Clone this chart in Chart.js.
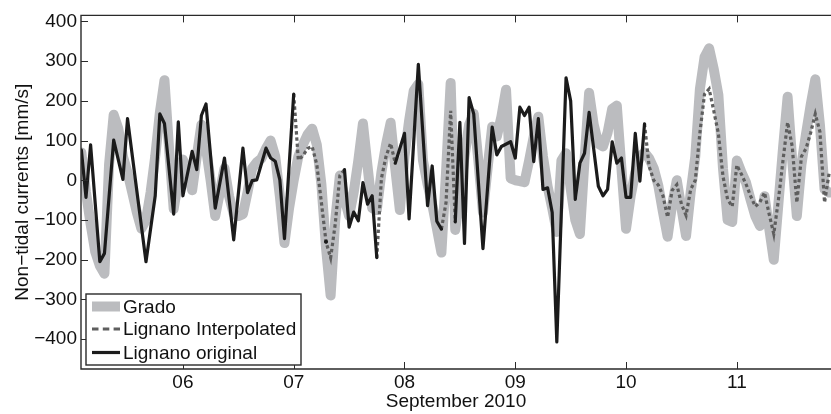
<!DOCTYPE html>
<html>
<head>
<meta charset="utf-8">
<script src="https://cdn.jsdelivr.net/npm/chart.js@4.4.0/dist/chart.umd.min.js"></script>
<style>
html,body{margin:0;padding:0;background:#fff;}
#wrap{width:831px;height:414px;}
</style>
</head>
<body>
<div id="wrap"><canvas id="c" width="831" height="414"></canvas></div>
<script>
// ---- DATA (hours since 5 Sep 2010 00:00) ----
const gradoHours = [2,3,4,5,6,7,8,9,10,11,12,13,14,15,16,17,18,19,20,21,22,23,24,25,26,27,28,29,30,31,32,33,34,35,36,37,38,39,40,41,42,43,44,45,46,47,48,49,50,51,52,53,54,55,56,57,58,59,60,61,62,63,64,65,66,67,68,69,70,71,72,73,74,75,76,77,78,79,80,81,82,83,84,85,86,87,88,89,90,91,92,93,94,95,96,97,98,99,100,101,102,103,104,105,106,107,108,109,110,111,112,113,114,115,116,117,118,119,120,121,122,123,124,125,126,127,128,129,130,131,132,133,134,135,136,137,138,139,140,141,142,143,144,145,146,147,148,149,150,151,152,153,154,155,156,157,158,159,160,161,162,163,164];
const gradoValues = [70,-30,-110,-180,-215,-235,40,165,130,60,20,-30,-80,-122,-100,-30,60,170,252,80,-72,0,52,20,-25,60,140,80,0,-90,-30,30,-40,-85,-90,-85,-30,30,45,55,80,100,60,-40,-158,-70,0,60,90,115,130,90,-10,-170,-290,-100,12,-45,-90,-30,50,143,35,-70,-75,20,90,145,30,-75,60,150,225,242,50,-10,-60,-120,-182,20,245,-125,-40,60,140,168,50,-81,30,135,110,160,228,5,0,-2,-5,50,110,160,60,-15,-70,-130,50,68,-20,-100,-135,50,220,140,92,85,120,180,188,30,-122,-40,20,60,70,55,30,-14,-80,-142,-60,0,-70,-140,-30,60,230,310,332,280,215,30,-100,-105,50,20,-6,-50,-90,-115,-40,-120,-200,-60,80,210,50,-90,40,118,190,254,140,-23,-31];

const lignanoOrigHours = [2,3,4,6,7,9,11,12,16,18,19,20,22,23,24,26,27,28,29,31,33,35,37,38,39,40,42,43,44,45,46,48,49,55,56,59,60,61,62,63,64,65,66,67,70,72,73,75,77,78,79,80,81,83,84,85,86,87,89,91,92,93,95,96,97,98,99,100,101,102,103,104,105,107,108,109,110,111,112,114,115,116,117,118,119,120,121,122,123,124];
const lignanoOrigValues = [76,-43,89,-205,-184,101,2,155,-205,-39,167,143,-85,147,-39,73,27,163,192,-70,56,-150,81,-31,-1,1,81,56,48,1,-147,217,null,-155,null,27,-118,-80,-102,-6,-60,-39,-195,null,43,118,-97,292,-64,36,-103,-123,null,-105,146,-159,208,167,-172,134,64,85,97,56,184,163,184,47,155,-23,-19,-81,-407,258,200,-48,43,68,171,-15,-39,-23,97,43,56,-43,-43,118,-2,142];

const lignanoInterpHours = [48,49,50,51,52,53,54,55,56,57,58,59,60,66,67,68,69,70,71,80,81,82,83,84,124,125,126,127,128,129,130,131,132,133,134,135,136,137,138,139,140,141,142,143,144,145,146,147,148,149,150,151,152,153,154,155,156,157,158,159,160,161,162,163,164];
const lignanoInterpValues = [217,51,62,80,85,40,-56,-155,-195,-110,12,27,null,-195,5,60,93,43,null,-123,-56,175,-105,null,142,35,0,-12,-39,-93,-25,-11,-60,-88,-23,0,120,217,230,175,118,10,-48,-66,38,15,-10,-40,-66,-55,-31,-85,-135,-50,50,146,85,-56,60,80,120,167,122,-56,18];

const xTickHours = [24,48,72,96,120,144];
const xTickLabels = ['06','07','08','09','10','11'];
const yTickValues = [-400,-300,-200,-100,0,100,200,300,400];
const seriesNames = ['Grado','Lignano Interpolated','Lignano original'];
const xAxisTitle = 'September 2010';
const yAxisTitle = 'Non\u2212tidal currents [mm/s]';

// ---- styles ----
const GREY = '#bbbcbf';
const DOT = '#5e5e5e';
const BLACK = '#1b1b1b';
const FRAME = '#2a2a2a';
const FONT = '"Liberation Sans", Arial, Helvetica, sans-serif';

function pts(hours, values){ return hours.map((h,i)=>({x:h, y:values[i]})); }

function isolatedRadius(c){
  const d = c.dataset.data, i = c.dataIndex;
  if (!d[i] || d[i].y == null) return 0;
  const p = d[i-1], n = d[i+1];
  return ((!p || p.y == null) && (!n || n.y == null)) ? 2 : 0;
}

Chart.defaults.font.family = FONT;
Chart.defaults.color = '#111';

const framePlugin = {
  id: 'frame',
  afterDraw(chart){
    const {ctx, chartArea:a, scales:{x, y}} = chart;
    ctx.save();
    ctx.strokeStyle = FRAME;
    ctx.lineWidth = 1.4;
    ctx.beginPath();
    ctx.moveTo(a.right + 2, a.top); ctx.lineTo(a.left, a.top);
    ctx.lineTo(a.left, a.bottom); ctx.lineTo(a.right + 2, a.bottom);
    ctx.stroke();
    ctx.lineWidth = 1;
    ctx.beginPath();
    xTickHours.forEach(h => {
      const px = Math.round(x.getPixelForValue(h)) + 0.5;
      ctx.moveTo(px, a.bottom); ctx.lineTo(px, a.bottom - 7);
      ctx.moveTo(px, a.top); ctx.lineTo(px, a.top + 7);
    });
    yTickValues.forEach(v => {
      const py = Math.round(y.getPixelForValue(v)) + 0.5;
      ctx.moveTo(a.left, py); ctx.lineTo(a.left + 7, py);
    });
    ctx.stroke();

    // legend
    const L = a.left + 5, T = a.bottom - 75, W = 215, H = 71;
    ctx.fillStyle = '#fff';
    ctx.fillRect(L, T, W, H);
    ctx.strokeStyle = FRAME; ctx.lineWidth = 1.4;
    ctx.strokeRect(L, T, W, H);
    const rows = [T + 12.5, T + 35, T + 58.5];
    const x0 = L + 6, x1 = L + 34;
    ctx.lineCap = 'butt';
    ctx.strokeStyle = GREY; ctx.lineWidth = 10; ctx.setLineDash([]);
    ctx.beginPath(); ctx.moveTo(x0, rows[0]); ctx.lineTo(x1, rows[0]); ctx.stroke();
    ctx.strokeStyle = DOT; ctx.lineWidth = 3.2; ctx.setLineDash([6.5, 4.3]);
    ctx.beginPath(); ctx.moveTo(x0, rows[1]); ctx.lineTo(x1, rows[1]); ctx.stroke();
    ctx.setLineDash([]);
    ctx.strokeStyle = BLACK; ctx.lineWidth = 3.2;
    ctx.beginPath(); ctx.moveTo(x0, rows[2]); ctx.lineTo(x1, rows[2]); ctx.stroke();
    ctx.fillStyle = '#111';
    ctx.font = '19px ' + FONT;
    ctx.textBaseline = 'middle';
    ctx.textAlign = 'left';
    seriesNames.forEach((t, i) => ctx.fillText(t, x1 + 3, rows[i] + 1));
    ctx.restore();
  }
};

new Chart(document.getElementById('c'), {
  type: 'line',
  data: {
    datasets: [
      {
        label: seriesNames[2],
        data: pts(lignanoOrigHours, lignanoOrigValues),
        borderColor: BLACK, backgroundColor: BLACK,
        borderWidth: 3.2, borderJoinStyle: 'round', borderCapStyle: 'round',
        pointRadius: isolatedRadius, pointBorderWidth: 0, pointBackgroundColor: BLACK,
        spanGaps: false, tension: 0, clip: 0, order: 0
      },
      {
        label: seriesNames[1],
        data: pts(lignanoInterpHours, lignanoInterpValues),
        borderColor: DOT, backgroundColor: DOT,
        borderWidth: 3.2, borderDash: [3.4, 2.8], borderJoinStyle: 'miter', borderCapStyle: 'butt',
        pointRadius: 0, spanGaps: false, tension: 0, clip: 0, order: 1
      },
      {
        label: seriesNames[0],
        data: pts(gradoHours, gradoValues),
        borderColor: GREY, backgroundColor: GREY,
        borderWidth: 10, borderJoinStyle: 'round', borderCapStyle: 'round',
        pointRadius: 0, spanGaps: false, tension: 0, clip: 0, order: 2
      }
    ]
  },
  options: {
    responsive: false,
    animation: false,
    devicePixelRatio: 1,
    layout: { padding: { top: 10, left: 0, right: 0, bottom: 0 } },
    plugins: { legend: { display: false }, tooltip: { enabled: false } },
    scales: {
      x: {
        type: 'linear', min: 1.92, max: 164.4,
        afterBuildTicks: s => { s.ticks = xTickHours.map(v => ({ value: v })); },
        afterFit: s => { s.height = 45; },
        grid: { display: false, drawTicks: false },
        border: { display: false },
        ticks: {
          autoSkip: false, maxRotation: 0, padding: 2,
          font: { size: 19 }, color: '#111',
          callback: v => { const i = xTickHours.indexOf(v); return i >= 0 ? xTickLabels[i] : ''; }
        },
        title: { display: true, text: xAxisTitle, font: { size: 19 }, color: '#111', padding: { top: 0, bottom: 1 } }
      },
      y: {
        type: 'linear', min: -475, max: 415,
        afterBuildTicks: s => { s.ticks = yTickValues.map(v => ({ value: v })); },
        afterFit: s => { s.width = 81; },
        grid: { display: false, drawTicks: false },
        border: { display: false },
        ticks: {
          padding: 4, font: { size: 19 }, color: '#111',
          callback: v => v < 0 ? '\u2212' + Math.abs(v) : String(v)
        },
        title: { display: true, text: yAxisTitle, font: { size: 19 }, color: '#111', padding: { top: 11, bottom: 0 } }
      }
    }
  },
  plugins: [framePlugin]
});
</script>
</body>
</html>
